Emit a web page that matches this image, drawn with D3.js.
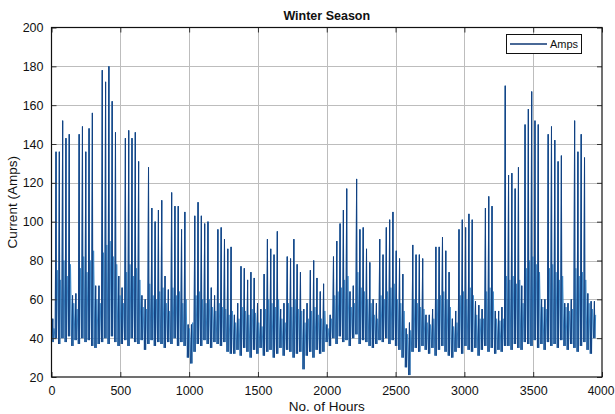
<!DOCTYPE html>
<html>
<head>
<meta charset="utf-8">
<script src="https://cdn.jsdelivr.net/npm/d3@7/dist/d3.min.js"></script>
<style>
  html, body { margin: 0; padding: 0; background: #ffffff; }
  svg { display: block; }
  text { font-family: "Liberation Sans", Arial, sans-serif; fill: #111; }
</style>
</head>
<body>
<svg id="chart" width="615" height="414"></svg>
<script>
// ---- data (one value per day) ----
const title = "Winter Season";
const xLabel = "No. of Hours";
const yLabel = "Current (Amps)";
const seriesName = "Amps";
const xTicks = [0, 500, 1000, 1500, 2000, 2500, 3000, 3500, 4000];
const yTicks = [20, 40, 60, 80, 100, 120, 140, 160, 180, 200];

// daily peak current (Amps), days 0..164
const dailyPeak = [
  50,136,136,152,143,145,62,63,145,149,136,148,156,67,67,178,172,180,162,146,72,66,143,147,143,146,131,62,
  60,128,107,100,106,111,72,65,115,108,108,96,105,47,47,103,110,103,99,100,66,62,96,97,91,86,87,
  52,58,77,76,70,74,71,58,55,73,91,86,83,95,55,58,82,81,91,78,74,55,58,75,80,71,64,68,
  47,52,82,90,99,106,117,64,67,122,96,97,86,79,60,58,91,83,97,101,105,85,81,73,45,48,88,
  83,83,81,52,52,55,87,87,92,85,74,50,54,96,101,97,104,101,59,57,55,107,113,108,54,54,56,170,
  124,125,117,128,67,150,158,167,152,150,60,60,145,149,142,131,134,58,58,60,152,136,145,133,63,59,59
];
// daily night-time low (Amps)
const dailyLow = [
  38,40,37,40,38,41,36,39,37,40,38,39,36,35,37,38,40,37,41,38,36,37,39,36,40,38,37,39,
  34,37,39,36,38,37,35,38,37,40,36,38,36,30,27,33,37,36,39,37,35,38,37,36,38,33,32,
  32,34,31,35,33,30,34,32,35,31,33,34,30,32,35,31,34,33,30,32,33,24,31,33,30,34,32,33,
  38,36,40,37,41,38,39,36,40,42,37,39,38,36,35,37,39,38,40,37,39,36,34,30,25,21,33,
  35,33,36,34,32,35,31,34,36,33,31,30,33,35,32,36,34,33,35,31,34,36,33,35,32,34,33,36,
  36,34,37,35,34,38,37,36,39,35,37,34,38,36,37,35,39,36,34,37,35,33,36,38,34,32,40
];
// daily afternoon/evening level (Amps)
const dailyMid = [
  45,75,70,80,72,78,58,55,76,82,74,80,85,60,58,84,88,90,82,78,62,58,74,78,72,76,70,56,
  55,68,62,60,64,66,58,54,66,62,64,58,60,45,48,62,64,60,58,60,56,54,58,56,55,52,54,
  48,50,56,54,52,55,53,48,46,55,60,58,56,60,50,48,58,56,60,55,54,48,50,54,56,52,50,54,
  45,50,62,64,66,70,72,56,58,74,66,64,60,58,52,50,62,60,64,66,68,60,58,54,42,44,60,
  58,56,55,48,47,50,60,62,64,60,56,46,48,62,64,60,66,62,52,50,50,64,66,64,50,49,50,72,
  70,72,68,70,58,76,80,82,78,74,56,55,76,78,74,70,72,56,54,55,76,72,74,70,58,55,52
];
// hour-of-day at which each reading sits
const hourLow = 3, hourPeak = 9, hourDrop = 12, hourMid = 18;

// build hourly points from the read values
const points = [];
const spikes = [];
dailyPeak.forEach((p, d) => {
  const base = d * 24;
  const a = [base + hourLow, dailyLow[d]];
  const b = [base + hourPeak, p];
  const c = [base + hourDrop, dailyLow[d]];
  points.push(a, b, c, [base + hourMid, dailyMid[d]]);
  spikes.push([a, b, c]);
});

// ---- layout ----
const svg = d3.select("#chart");
const mLeft = 51.5, mRight = 602, mTop = 27.5, mBottom = 377;

const x = d3.scaleLinear().domain([0, 4000]).range([mLeft, mRight]);
const y = d3.scaleLinear().domain([20, 200]).range([mBottom, mTop]);

// grid
const grid = svg.append("g");
grid.selectAll(".gx").data(xTicks.slice(1, -1)).enter().append("line")
  .attr("x1", d => Math.round(x(d)) + 0.5).attr("x2", d => Math.round(x(d)) + 0.5)
  .attr("y1", mTop).attr("y2", mBottom)
  .attr("stroke", "#bdbdbd").attr("stroke-width", 1);
grid.selectAll(".gy").data(yTicks.slice(1, -1)).enter().append("line")
  .attr("x1", mLeft).attr("x2", mRight)
  .attr("y1", d => Math.round(y(d)) + 0.5).attr("y2", d => Math.round(y(d)) + 0.5)
  .attr("stroke", "#bdbdbd").attr("stroke-width", 1);

// clip
svg.append("clipPath").attr("id", "clip").append("rect")
  .attr("x", mLeft).attr("y", mTop).attr("width", mRight - mLeft).attr("height", mBottom - mTop);

// line: full series in the lighter tone, spikes re-inked darker on top
const line = d3.line().x(d => x(d[0])).y(d => y(d[1]));
const plot = svg.append("g").attr("clip-path", "url(#clip)");
plot.append("path")
  .datum(points)
  .attr("fill", "none")
  .attr("stroke", "#3f8ccb")
  .attr("stroke-width", 1)
  .attr("stroke-linejoin", "round")
  .attr("d", line);
plot.selectAll(".spike").data(spikes).enter().append("path")
  .attr("fill", "none")
  .attr("stroke", "#123f80")
  .attr("stroke-width", 0.95)
  .attr("stroke-linejoin", "round")
  .attr("d", line);

// axes (MATLAB style: inward ticks on all sides)
const tickLen = 5;
const fmt = d3.format("d");
const axB = d3.axisBottom(x).tickValues(xTicks).tickFormat(fmt).tickSizeInner(-tickLen).tickSizeOuter(0).tickPadding(9);
const axL = d3.axisLeft(y).tickValues(yTicks).tickFormat(fmt).tickSizeInner(-tickLen).tickSizeOuter(0).tickPadding(8);
const axT = d3.axisTop(x).tickValues(xTicks).tickSizeInner(-tickLen).tickSizeOuter(0).tickFormat("");
const axR = d3.axisRight(y).tickValues(yTicks).tickSizeInner(-tickLen).tickSizeOuter(0).tickFormat("");

function style(g) {
  g.select(".domain").remove();
  g.selectAll("line").attr("stroke", "#333");
  g.selectAll("text").attr("font-family", "Liberation Sans, Arial, sans-serif")
    .attr("font-size", 12.5).attr("fill", "#111");
}
const gB = svg.append("g").attr("transform", `translate(0,${mBottom})`).call(axB).call(style);
gB.selectAll(".tick text").filter(d => d === 4000).attr("dx", -1.5).attr("font-size", 12);
svg.append("g").attr("transform", `translate(${mLeft},0)`).call(axL).call(style);
svg.append("g").attr("transform", `translate(0,${mTop})`).call(axT).call(style);
svg.append("g").attr("transform", `translate(${mRight},0)`).call(axR).call(style);

// box
svg.append("rect").attr("x", mLeft).attr("y", mTop)
  .attr("width", mRight - mLeft).attr("height", mBottom - mTop)
  .attr("fill", "none").attr("stroke", "#111").attr("stroke-width", 1.2);

// title & labels
svg.append("text").attr("x", (mLeft + mRight) / 2).attr("y", 20)
  .attr("text-anchor", "middle").attr("font-weight", "bold").attr("font-size", 12.5)
  .text(title);
svg.append("text").attr("x", (mLeft + mRight) / 2).attr("y", 411)
  .attr("text-anchor", "middle").attr("font-size", 13.5).text(xLabel);
svg.append("text")
  .attr("transform", `translate(17,${(mTop + mBottom) / 2}) rotate(-90)`)
  .attr("text-anchor", "middle").attr("font-size", 13.5).text(yLabel);

// legend
const lg = svg.append("g");
lg.append("rect").attr("x", 506.5).attr("y", 34.5).attr("width", 75).attr("height", 19)
  .attr("fill", "#fff").attr("stroke", "#111").attr("stroke-width", 1);
lg.append("line").attr("x1", 510).attr("x2", 547).attr("y1", 44).attr("y2", 44)
  .attr("stroke", "#0e3774").attr("stroke-width", 1.5);
lg.append("text").attr("x", 550).attr("y", 48).attr("font-size", 11).text(seriesName);
</script>
</body>
</html>
